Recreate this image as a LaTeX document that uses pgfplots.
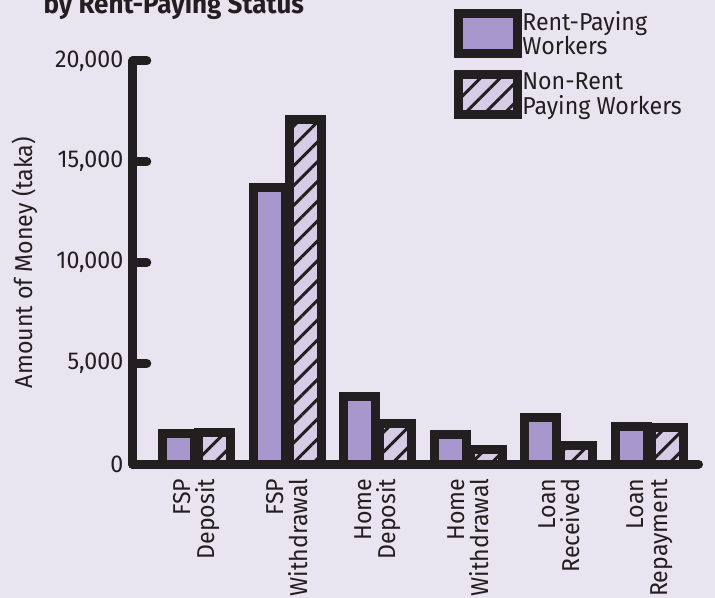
\documentclass[border=0pt]{standalone}
\usepackage{fontspec}
\setmainfont{Fira Sans}[FakeStretch=0.95]
\usepackage{pgfplots}
\usepackage{pgfplotstable}
\pgfplotsset{compat=1.18}
\usetikzlibrary{patterns.meta}

\definecolor{bgcol}{HTML}{E8E5F0}
\definecolor{rentcol}{HTML}{A897CC}
\definecolor{nonrentcol}{HTML}{D5CDE6}
\definecolor{ink}{HTML}{231F20}

% amounts in taka, categories at 0..5
\pgfplotstableread{
x rent nonrent
0 1520 1590
1 13700 17090
2 3340 2020
3 1470 730
4 2300 930
5 1880 1800
}\moneydata

\newcommand{\chartfont}{\fontsize{24.5}{24.5}\selectfont}

\begin{document}
\begin{tikzpicture}
\fill[bgcol] (0,0) rectangle (715bp,598bp);
\path[use as bounding box] (0,0) rectangle (715bp,598bp);
\node[anchor=base west, font=\fontsize{27.5}{27.5}\selectfont\bfseries, text=ink]
  at (40bp,584.5bp) {by Rent-Paying Status};
\begin{axis}[
  at={(132.8bp,133.8bp)}, anchor=south west,
  scale only axis, width=565.7bp, height=403.4bp,
  xmin=-0.703, xmax=5.54, ymin=0, ymax=20000,
  axis x line=bottom, axis y line=left,
  axis line style={-, draw=ink, line width=9bp, line cap=round},
  xtick={0,...,5},
  xticklabels={{FSP\\Deposit},{FSP\\Withdrawal},{Home\\Deposit},
    {Home\\Withdrawal},{Loan\\Received},{Loan\\Repayment}},
  ytick={0,5000,10000,15000,20000},
  scaled y ticks=false,
  /pgf/number format/1000 sep={,},
  /pgf/number format/assume math mode=true,
  major x tick style={draw=none},
  y tick style={draw=ink, line width=9bp, line cap=round},
  tick align=inside, major tick length=14bp,
  every tick label/.append style={font=\chartfont, text=ink},
  yticklabel style={xshift=-6bp},
  xticklabel style={yshift=3bp, rotate=90, anchor=east, align=right},
  ylabel={Amount of Money (taka)},
  ylabel style={at={(rel axis cs:-0.1906,0.5)}, anchor=center, rotate=0,
    font=\chartfont, text=ink},
  ybar=4bp, bar width=32bp,
  legend style={at={(rel axis cs:0.568,1.128)}, anchor=north west,
    draw=none, fill=none, inner sep=0pt, row sep=12bp,
    font=\chartfont,
    /tikz/every even column/.append style={column sep=3bp},
    nodes={align=left, inner sep=0pt, text=ink}},
  legend cell align=left,
  legend image code/.code={\draw[#1, line width=9bp]
    (0bp,-19.85bp) rectangle (59bp,19.85bp);},
]
\addplot[draw=ink, line width=9bp, fill=rentcol]
  table[x=x, y=rent]{\moneydata};
\addlegendentry{Rent-Paying\\Workers}
\addplot[draw=ink, line width=9bp, preaction={fill=nonrentcol},
  pattern={Lines[angle=45, distance=14bp, line width=3bp]}, pattern color=ink]
  table[x=x, y=nonrent]{\moneydata};
\addlegendentry{Non-Rent\\Paying Workers}
\end{axis}
\end{tikzpicture}
\end{document}
